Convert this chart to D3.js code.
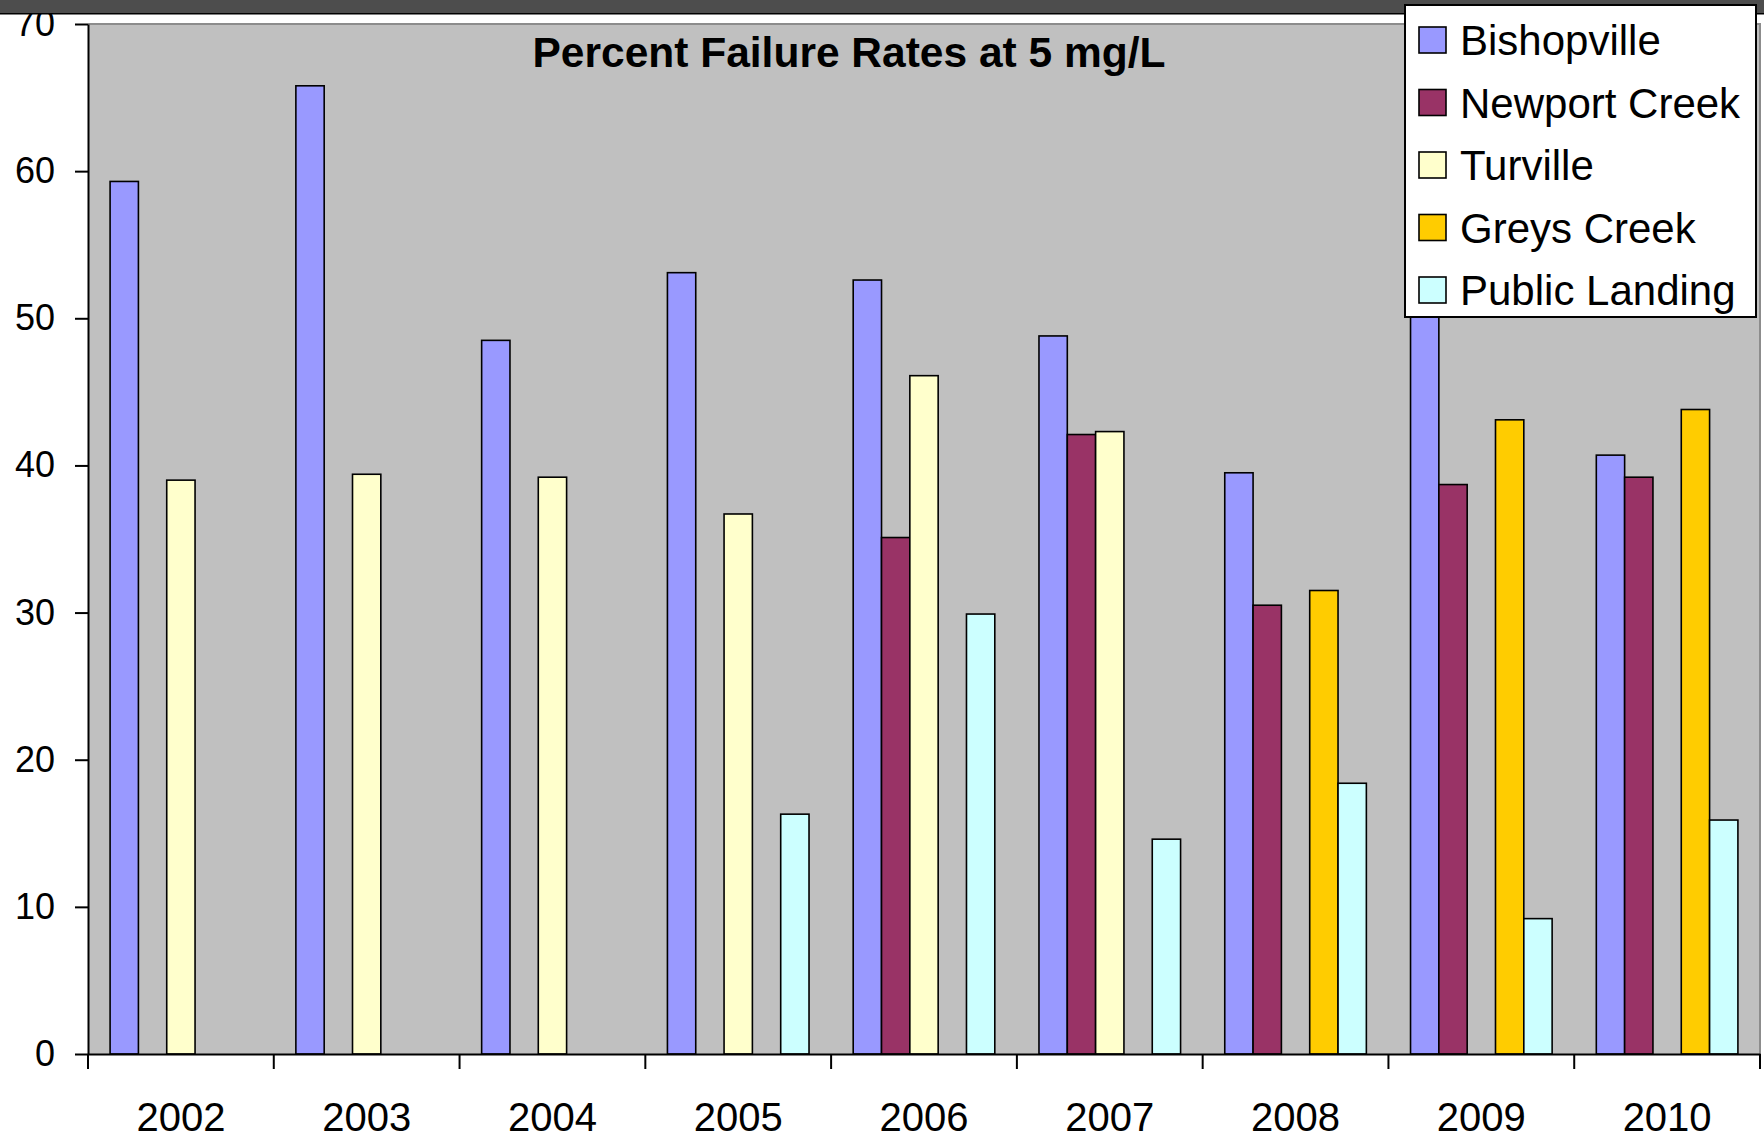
<!DOCTYPE html>
<html>
<head>
<meta charset="utf-8">
<script src="https://cdn.jsdelivr.net/npm/d3@7"></script>
<style>
  html, body { margin: 0; padding: 0; background: #ffffff; }
  svg { display: block; }
  text { font-family: "Liberation Sans", Arial, sans-serif; }
</style>
</head>
<body>
<svg id="chart" width="1764" height="1140"></svg>
<script>
// ---- data ----
const years = ["2002", "2003", "2004", "2005", "2006", "2007", "2008", "2009", "2010"];
const seriesNames = ["Bishopville", "Newport Creek", "Turville", "Greys Creek", "Public Landing"];
const seriesColors = ["#9999ff", "#993366", "#ffffcc", "#ffcc00", "#ccffff"];
const bishopville   = [59.3, 65.8, 48.5, 53.1, 52.6, 48.8, 39.5, 55.0, 40.7];
const newportCreek  = [null, null, null, null, 35.1, 42.1, 30.5, 38.7, 39.2];
const turville      = [39.0, 39.4, 39.2, 36.7, 46.1, 42.3, null, null, null];
const greysCreek    = [null, null, null, null, null, null, 31.5, 43.1, 43.8];
const publicLanding = [null, null, null, 16.3, 29.9, 14.6, 18.4, 9.2, 15.9];
const yTicks = [0, 10, 20, 30, 40, 50, 60, 70];
const chartTitle = "Percent Failure Rates at 5 mg/L";

const seriesValues = [bishopville, newportCreek, turville, greysCreek, publicLanding];

// ---- layout ----
const svg = d3.select("#chart");
const plotL = 88, plotR = 1760, plotT = 24, plotB = 1054;

const x = d3.scaleBand().domain(years).range([plotL, plotR]).paddingInner(0).paddingOuter(0);
const x1 = d3.scaleBand().domain(seriesNames).range([0, x.bandwidth()]).paddingOuter(0.78).paddingInner(0);
const y = d3.scaleLinear().domain([0, 70]).range([plotB, plotT]);

// plot area
svg.append("rect")
  .attr("x", plotL).attr("y", plotT)
  .attr("width", plotR - plotL).attr("height", plotB - plotT)
  .attr("fill", "#c0c0c0");
svg.append("path")
  .attr("d", `M${plotL},${plotT}H${plotR}V${plotB}`)
  .attr("fill", "none").attr("stroke", "#8c8c8c").attr("stroke-width", 2);

// bars
const bars = [];
years.forEach((yr, i) => {
  seriesNames.forEach((s, j) => {
    const v = seriesValues[j][i];
    if (v !== null && v !== undefined) bars.push({ yr, s, v, c: seriesColors[j] });
  });
});
svg.append("g").selectAll("rect").data(bars).join("rect")
  .attr("x", d => x(d.yr) + x1(d.s))
  .attr("y", d => y(d.v))
  .attr("width", x1.bandwidth())
  .attr("height", d => y(0) - y(d.v))
  .attr("fill", d => d.c)
  .attr("stroke", "#000")
  .attr("stroke-width", 1.6);

// y axis
const yAxis = svg.append("g")
  .attr("transform", `translate(${plotL},0)`)
  .call(d3.axisLeft(y).tickValues(yTicks).tickSize(13).tickPadding(20).tickSizeOuter(0));
yAxis.select(".domain").attr("stroke", "#000").attr("stroke-width", 2);
yAxis.selectAll(".tick line").attr("stroke", "#000").attr("stroke-width", 2);
yAxis.selectAll("text").attr("font-size", 36).attr("fill", "#000")
  .style("font-family", '"Liberation Sans", Arial, sans-serif');

// x axis (labels)
const xAxis = svg.append("g")
  .attr("transform", `translate(0,${plotB})`)
  .call(d3.axisBottom(x).tickSize(0).tickPadding(49).tickSizeOuter(0));
xAxis.select(".domain").attr("stroke", "#000").attr("stroke-width", 2);
xAxis.selectAll("text").attr("font-size", 40).attr("fill", "#000")
  .style("font-family", '"Liberation Sans", Arial, sans-serif');

// x axis boundary ticks
const boundaries = years.map(yr => x(yr)).concat([x(years[years.length - 1]) + x.bandwidth()]);
svg.append("g").selectAll("line").data(boundaries).join("line")
  .attr("x1", d => d).attr("x2", d => d)
  .attr("y1", plotB).attr("y2", plotB + 15)
  .attr("stroke", "#000").attr("stroke-width", 2);

// title
svg.append("text")
  .attr("x", 849).attr("y", 67)
  .attr("text-anchor", "middle")
  .attr("font-size", 42.5).attr("font-weight", "bold")
  .attr("fill", "#000")
  .text(chartTitle);

// top dark band (drawn over the top of labels)
svg.append("rect").attr("x", 0).attr("y", 0).attr("width", 1764).attr("height", 13).attr("fill", "#4d4d4d");
svg.append("rect").attr("x", 0).attr("y", 13).attr("width", 1764).attr("height", 1.5).attr("fill", "#000");

// legend
const lg = svg.append("g");
lg.append("rect")
  .attr("x", 1405).attr("y", 5).attr("width", 351).attr("height", 312)
  .attr("fill", "#fff").attr("stroke", "#000").attr("stroke-width", 2);
const rowY = d3.scalePoint().domain(seriesNames).range([40, 290]);
const rows = lg.selectAll("g.row").data(seriesNames).join("g").attr("class", "row")
  .attr("transform", s => `translate(0,${rowY(s)})`);
rows.append("rect")
  .attr("x", 1419).attr("y", -13).attr("width", 27).attr("height", 26)
  .attr("fill", (s, i) => seriesColors[i]).attr("stroke", "#000").attr("stroke-width", 1.6);
rows.append("text")
  .attr("x", 1460).attr("y", 0).attr("dy", "0.36em")
  .attr("font-size", 42).attr("fill", "#000")
  .text(s => s);
</script>
</body>
</html>
